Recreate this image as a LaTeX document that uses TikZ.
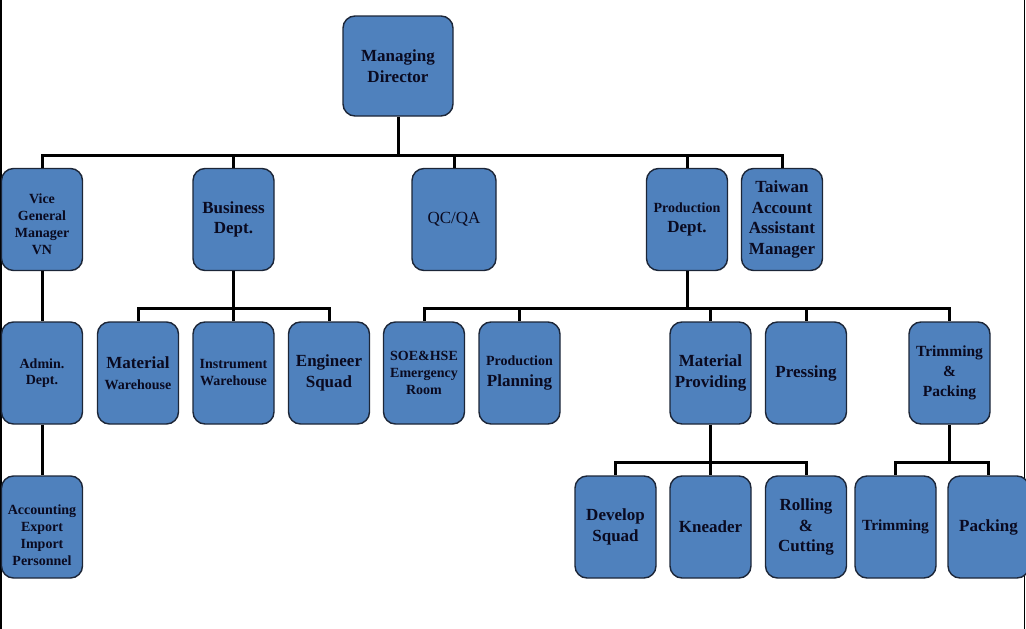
\documentclass[tikz,border=0pt]{standalone}
\usepackage{fontspec}
\setmainfont{Liberation Serif}
\definecolor{boxblue}{HTML}{4F81BD}
\definecolor{boxline}{HTML}{1C2638}
\definecolor{txt}{HTML}{0A0A20}
\newcommand\fsL{\fontsize{17}{20.5}\selectfont}
\newcommand\fsM{\fontsize{15.5}{20}\selectfont}
\newcommand\fsS{\fontsize{14}{17}\selectfont}
\begin{document}
\begin{tikzpicture}[x=1pt,y=-1pt,
  org/.style={draw=boxline, line width=1.4pt, fill=boxblue, rounded corners=12pt,
    minimum width=81pt, minimum height=102pt, align=center, text=txt,
    font=\bfseries\fsL, inner sep=1pt},
  link/.style={line width=3pt, black},
  frame/.style={line width=1.5pt, black}]
\useasboundingbox (0,0) rectangle (1026,629);
% side frame lines
\draw[frame] (0.75,0) -- (0.75,629);
\draw[frame] (1024.6,0) -- (1024.6,629);

% level 0
\node[org, minimum width=110pt, minimum height=100pt] (md) at (398,66) {Managing\\Director};
% level 1
\node[org] (vgm) at (42,219.5) {};
\node[font=\bfseries\fsS, text=txt, align=center] (vgmt) at (42,224) {Vice\\General\\Manager\\VN};
\node[org] (bus) at (233.5,219.5) {Business\\Dept.};
\node[org, minimum width=84pt, font=\mdseries\fsL] (qc) at (454,219.5) {QC/QA};
\node[org] (pd) at (687,219.5) {{\fsS Production}\\Dept.};
\node[org] (tw) at (782,219.5) {Taiwan\\Account\\Assistant\\Manager};
% level 2
\node[org, font=\bfseries\fontsize{14}{15.5}\selectfont] (adm) at (42,373) {Admin.\\Dept.};
\node[org] (mw) at (138,373) {Material\\{\fsS Warehouse}};
\node[org, font=\bfseries\fsS] (iw) at (233.5,373) {Instrument\\Warehouse};
\node[org] (eng) at (329,373) {Engineer\\Squad};
\node[org, font=\bfseries\fsS] (soe) at (424,373) {SOE\&HSE\\Emergency\\Room};
\node[org] (pp) at (519.5,373) {{\fsS Production}\\Planning};
\node[org] (mp) at (710.5,373) {Material\\Providing};
\node[org] (pr) at (806,373) {Pressing};
\node[org, font=\bfseries\fsM] (tp) at (949.5,373) {Trimming\\\&\\Packing};
% level 3
\node[org] (acc) at (42,527) {};
\node[font=\bfseries\fsS, text=txt, align=center] (acct) at (42,535) {Accounting\\Export\\Import\\Personnel};
\node[org] (dev) at (615.5,527) {Develop\\Squad};
\node[org] (kn) at (710.5,527) {Kneader};
\node[org] (rc) at (806,527) {Rolling\\\&\\Cutting};
\node[org, font=\bfseries\fsM] (tr) at (895.5,527) {Trimming};
\node[org] (pk) at (988.5,527) {Packing};

% bus coordinates
\coordinate (b1) at (398,155);
\coordinate (b2) at (687,308);
\coordinate (b3) at (233.5,308);
\coordinate (b4) at (710.5,462);
\coordinate (b5) at (949.5,462);

% connectors
\draw[link] (md.south) -- (b1);
\foreach \c in {vgm,bus,qc,pd,tw} \draw[link] (b1) -| (\c.north);
\draw[link] (bus.south) -- (b3);
\foreach \c in {mw,iw,eng} \draw[link] (b3) -| (\c.north);
\draw[link] (pd.south) -- (b2);
\foreach \c in {soe,pp,mp,pr,tp} \draw[link] (b2) -| (\c.north);
\draw[link] (mp.south) -- (b4);
\foreach \c in {dev,kn,rc} \draw[link] (b4) -| (\c.north);
\draw[link] (tp.south) -- (b5);
\foreach \c in {tr,pk} \draw[link] (b5) -| (\c.north);
\draw[link] (vgm.south) -- (adm.north);
\draw[link] (adm.south) -- (acc.north);
\end{tikzpicture}
\end{document}
